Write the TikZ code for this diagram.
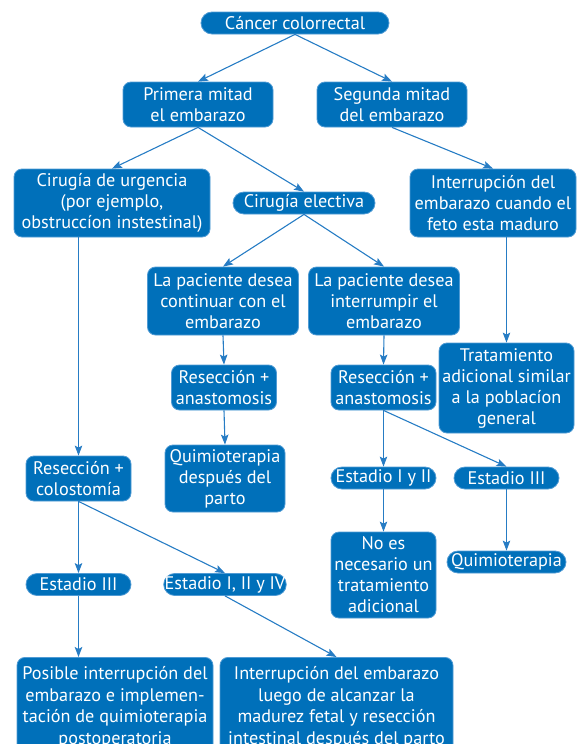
\documentclass[tikz,border=0pt]{standalone}
\usepackage{fontspec}
\setmainfont{PT Sans}
\usetikzlibrary{arrows.meta}
\definecolor{boxblue}{RGB}{0,112,186}
\definecolor{edgeblue}{RGB}{80,155,212}
\definecolor{arrowblue}{RGB}{38,124,196}
\tikzset{
  box/.style={draw=edgeblue, line width=0.8pt, fill=boxblue, text=white, rounded corners=8pt,
    align=center, inner sep=1pt, font=\fontsize{18.2}{21}\selectfont},
  pill/.style={box, rounded corners=11pt, minimum height=22pt},
  lowbox/.style={box, anchor=north, minimum height=100pt, font=\fontsize{18.2}{21.5}\selectfont},
  conn/.style={draw=arrowblue, line width=1.1pt, -{Stealth[length=10pt,width=7.5pt,inset=2pt]}}
}
\begin{document}
\begin{tikzpicture}[x=1pt,y=-1pt]
\useasboundingbox (0,0) rectangle (578,744);
\clip (0,0) rectangle (578,744);
% row 1
\node[pill, minimum width=188pt] (cc) at (295,23) {Cáncer colorrectal};
% row 2
\node[box, minimum width=150pt, minimum height=45pt] (pm) at (198,104.5) {Primera mitad\\el embarazo};
\node[box, minimum width=150pt, minimum height=45pt] (sm) at (392,104.5) {Segunda mitad\\del embarazo};
% row 3
\node[box, minimum width=196pt, minimum height=68pt] (cu) at (112,203) {Cirugía de urgencia\\(por ejemplo,\\obstruccíon instestinal)};
\node[pill, minimum width=142pt] (ce) at (304,203) {Cirugía electiva};
\node[box, minimum width=166pt, minimum height=68pt] (ie) at (493,203) {Interrupción del\\embarazo cuando el\\feto esta maduro};
% row 4
\node[box, minimum width=151pt, minimum height=68pt] (pc) at (223,301) {La paciente desea\\continuar con el\\embarazo};
\node[box, minimum width=151pt, minimum height=68pt] (pi) at (384,301) {La paciente desea\\interrumpir el\\embarazo};
\node[box, minimum width=135pt, minimum height=90pt] (ta) at (506.5,388) {Tratamiento\\adicional similar\\a la poblacíon\\general};
% row 5
\node[box, minimum width=105pt, minimum height=45pt] (ra1) at (224,387.5) {Resección +\\anastomosis};
\node[box, minimum width=105pt, minimum height=45pt] (ra2) at (383.5,387.5) {Resección +\\anastomosis};
% row 6
\node[box, minimum width=105pt, minimum height=45pt] (rc) at (78.5,478.5) {Resección +\\colostomía};
\node[box, minimum width=120pt, minimum height=67pt] (qd) at (225,478.5) {Quimioterapia\\después del\\parto};
\node[pill, minimum width=105pt] (e12) at (383.5,478) {Estadio I y II};
\node[pill, minimum width=105pt] (e3r) at (506.5,478) {Estadio III};
% row 7
\node[box, minimum width=105pt, minimum height=86pt] (ne) at (383.5,575) {No es\\necesario un\\tratamiento\\adicional};
\node[pill, minimum width=119pt] (qr) at (506.5,562) {Quimioterapia};
\node[pill, minimum width=105pt] (e3l) at (78.5,584.5) {Estadio III};
\node[pill, minimum width=120pt] (e124) at (225,584.5) {Estadio I, II y IV};
% row 8
\node[lowbox, minimum width=196pt] (pos) at (115,657) {Posible interrupción del\\embarazo e implemen-\\tación de quimioterapia\\postoperatoria};
\node[lowbox, minimum width=233pt] (il) at (336.5,657) {Interrupción del embarazo\\luego de alcanzar la\\madurez fetal y resección\\intestinal después del parto};
% connectors
\draw[conn] (cc.south) -- (pm.north);
\draw[conn] (cc.south) -- (sm.north);
\draw[conn] (pm.south) -- (cu.north);
\draw[conn] (pm.south) -- (ce.north);
\draw[conn] (sm.south) -- (ie.north);
\draw[conn] (ce.south) -- (pc.north);
\draw[conn] (ce.south) -- (pi.north);
\draw[conn] (ie.south -| ta.north) -- (ta.north);
\draw[conn] (cu.south -| rc.north) -- (rc.north);
\draw[conn] (pc.south) -- (ra1.north);
\draw[conn] (ra1.south) -- (qd.north);
\draw[conn] (pi.south) -- (ra2.north);
\draw[conn] (ra2.south) -- (e12.north);
\draw[conn] (ra2.south) -- (e3r.north);
\draw[conn] (e12.south) -- (ne.north);
\draw[conn] (e3r.south) -- (qr.north);
\draw[conn] (rc.south) -- (e3l.north);
\draw[conn] (rc.south) -- (e124.north);
\draw[conn] (e3l.south) -- (e3l.south |- pos.north);
\draw[conn] (e124.south) -- (il.north);
\end{tikzpicture}
\end{document}
